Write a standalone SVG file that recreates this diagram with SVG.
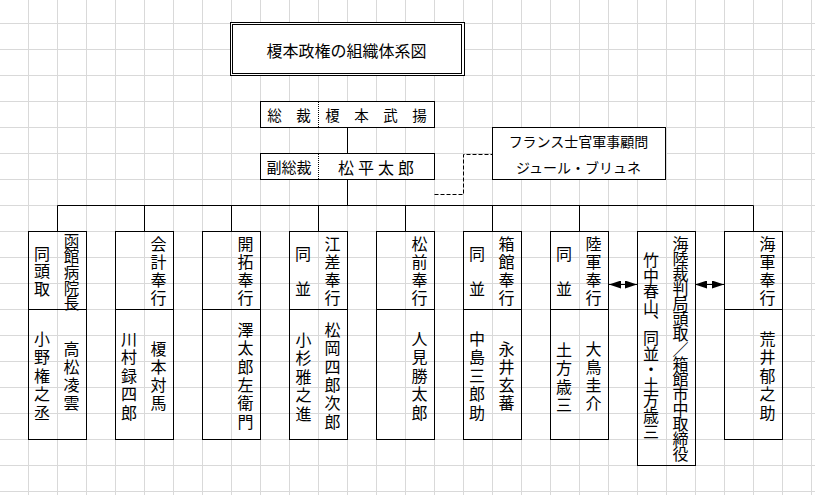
<svg xmlns="http://www.w3.org/2000/svg" width="815" height="495" viewBox="0 0 815 495">
<style>
.grid{stroke:#d9d9d9;stroke-width:1;fill:none}
.box{fill:none;stroke:#000;stroke-width:1}
.wbox{fill:#fff;stroke:#000;stroke-width:1}
.ln{fill:none;stroke:#000;stroke-width:1}
.dot{fill:none;stroke:#000;stroke-width:1;stroke-dasharray:1 1}
.dash{fill:none;stroke:#000;stroke-width:1;stroke-dasharray:4 2}
text{font-family:"Noto Sans CJK JP","Noto Sans CJK SC",sans-serif;fill:#000}
.h{dominant-baseline:central;text-anchor:middle}
.v{writing-mode:vertical-rl;font-size:16px}
.t{letter-spacing:2.3px}
.n{letter-spacing:2.6px}
.s{letter-spacing:1.8px}
</style>
<defs>
<marker id="ah" viewBox="0 0 12 8" refX="12" refY="4" markerWidth="12" markerHeight="8" markerUnits="userSpaceOnUse" orient="auto-start-reverse">
<path d="M0,0 L12,4 L0,8 z" fill="#000"/>
</marker>
</defs>
<rect width="815" height="495" fill="#fff"/>
<path class="grid" d="M28.5,0V495M57.5,0V495M86.5,0V495M115.5,0V495M144.5,0V495M173.5,0V495M202.5,0V495M231.5,0V495M260.5,0V495M289.5,0V495M318.5,0V495M347.5,0V495M376.5,0V495M405.5,0V495M434.5,0V495M463.5,0V495M492.5,0V495M521.5,0V495M550.5,0V495M579.5,0V495M608.5,0V495M637.5,0V495M666.5,0V495M695.5,0V495M724.5,0V495M753.5,0V495M782.5,0V495M811.5,0V495M0,23.5H815M0,49.5H815M0,75.5H815M0,101.5H815M0,127.5H815M0,153.5H815M0,179.5H815M0,205.5H815M0,231.5H815M0,257.5H815M0,283.5H815M0,309.5H815M0,335.5H815M0,361.5H815M0,387.5H815M0,413.5H815M0,439.5H815M0,465.5H815M0,491.5H815"/>

<g id="title">
<rect class="wbox" x="230.5" y="22.5" width="234" height="53"/>
<rect class="box" x="232.5" y="24.5" width="229" height="49"/>
<text class="h" x="346.5" y="49.5" font-size="16">榎本政権の組織体系図</text>
</g>

<g id="connectors">
<path class="ln" d="M347.5,127.5V153.5M347.5,179.5V205.5M57.5,205.5H753.5M57.5,205.5V231.5M144.5,205.5V231.5M231.5,205.5V231.5M318.5,205.5V231.5M405.5,205.5V231.5M492.5,205.5V231.5M579.5,205.5V231.5M753.5,205.5V231.5"/>
<path class="dash" d="M434.5,194.5H463.5V154.5H492.5"/>
<path class="ln" d="M609,284.5H637" marker-start="url(#ah)" marker-end="url(#ah)"/>
<path class="ln" d="M695,284.5H724" marker-start="url(#ah)" marker-end="url(#ah)"/>
</g>

<g id="sousai">
<rect class="wbox" x="260.5" y="101.5" width="174" height="26"/>
<path class="dot" d="M318.5,102V127"/>
<text class="h" x="289" y="114.5" font-size="14.5">総　裁</text>
<text class="h" x="376" y="114.5" font-size="14.5">榎　本　武　揚</text>
</g>

<g id="fukusousai">
<rect class="wbox" x="260.5" y="153.5" width="174" height="26"/>
<path class="dot" d="M318.5,154V179"/>
<text class="h" x="289" y="166.5" font-size="15">副総裁</text>
<text class="h" x="378" y="167" font-size="16" style="letter-spacing:4px">松平太郎</text>
</g>

<g id="france">
<rect class="wbox" x="492.5" y="127.5" width="173" height="52"/>
<text class="h" x="578.5" y="140.5" font-size="14">フランス士官軍事顧問</text>
<text class="h" x="578.5" y="166.5" font-size="14">ジュール・ブリュネ</text>
</g>

<g id="hakodate-byoin">
<rect class="box" x="28.5" y="231.5" width="58" height="208"/>
<path class="ln" d="M28.5,309.5H86.5"/>
<text class="v" x="71.5" y="233" style="font-size:15.5px;letter-spacing:0.2px">函館病院長</text>
<text class="v s" x="42" y="245.5">同頭取</text>
<text class="v t" x="71.5" y="340.5">高松凌雲</text>
<text class="v n" x="42" y="330.5">小野権之丞</text>
</g>

<g id="kaikei">
<rect class="box" x="115.5" y="231.5" width="58" height="208"/>
<path class="ln" d="M115.5,309.5H173.5"/>
<text class="v t" x="158.5" y="235.5">会計奉行</text>
<text class="v t" x="158.5" y="340.5">榎本対馬</text>
<text class="v n" x="129" y="330.5">川村録四郎</text>
</g>

<g id="kaitaku">
<rect class="box" x="202.5" y="231.5" width="58" height="208"/>
<path class="ln" d="M202.5,309.5H260.5"/>
<text class="v t" x="245.5" y="235.5">開拓奉行</text>
<text class="v t" x="245.5" y="322">澤太郎左衛門</text>
</g>

<g id="esashi">
<rect class="box" x="289.5" y="231.5" width="58" height="208"/>
<path class="ln" d="M289.5,309.5H347.5"/>
<text class="v t" x="332.5" y="235.5">江差奉行</text>
<text class="v s" x="303" y="245.5">同　並</text>
<text class="v t" x="332.5" y="322">松岡四郎次郎</text>
<text class="v n" x="303.5" y="331.5">小杉雅之進</text>
</g>

<g id="matsumae">
<rect class="box" x="376.5" y="231.5" width="58" height="208"/>
<path class="ln" d="M376.5,309.5H434.5"/>
<text class="v t" x="419.5" y="235.5">松前奉行</text>
<text class="v n" x="419.5" y="330.5">人見勝太郎</text>
</g>

<g id="hakodate-bugyo">
<rect class="box" x="463.5" y="231.5" width="58" height="208"/>
<path class="ln" d="M463.5,309.5H521.5"/>
<text class="v t" x="506.5" y="235.5">箱館奉行</text>
<text class="v s" x="477" y="245.5">同　並</text>
<text class="v t" x="506.5" y="340.5">永井玄蕃</text>
<text class="v n" x="477" y="330.5">中島三郎助</text>
</g>

<g id="rikugun">
<rect class="box" x="550.5" y="231.5" width="58" height="208"/>
<path class="ln" d="M550.5,309.5H608.5"/>
<text class="v t" x="593.5" y="235.5">陸軍奉行</text>
<text class="v s" x="564" y="245.5">同　並</text>
<text class="v t" x="593.5" y="340.5">大鳥圭介</text>
<text class="v t" x="564" y="342">土方歳三</text>
</g>

<g id="kairiku-saibankyoku">
<rect class="box" x="637.5" y="231.5" width="58" height="234"/>
<text class="v" x="680.5" y="235.5" style="letter-spacing:-1px">海陸裁判局頭取／箱館市中取締役</text>
<text class="v" x="651" y="252" style="letter-spacing:-0.4px">竹中春山、同並・土方歳三</text>
</g>

<g id="kaigun">
<rect class="box" x="724.5" y="231.5" width="58" height="208"/>
<path class="ln" d="M724.5,309.5H782.5"/>
<text class="v t" x="767.5" y="235.5">海軍奉行</text>
<text class="v n" x="767.5" y="330.5">荒井郁之助</text>
</g>
</svg>
